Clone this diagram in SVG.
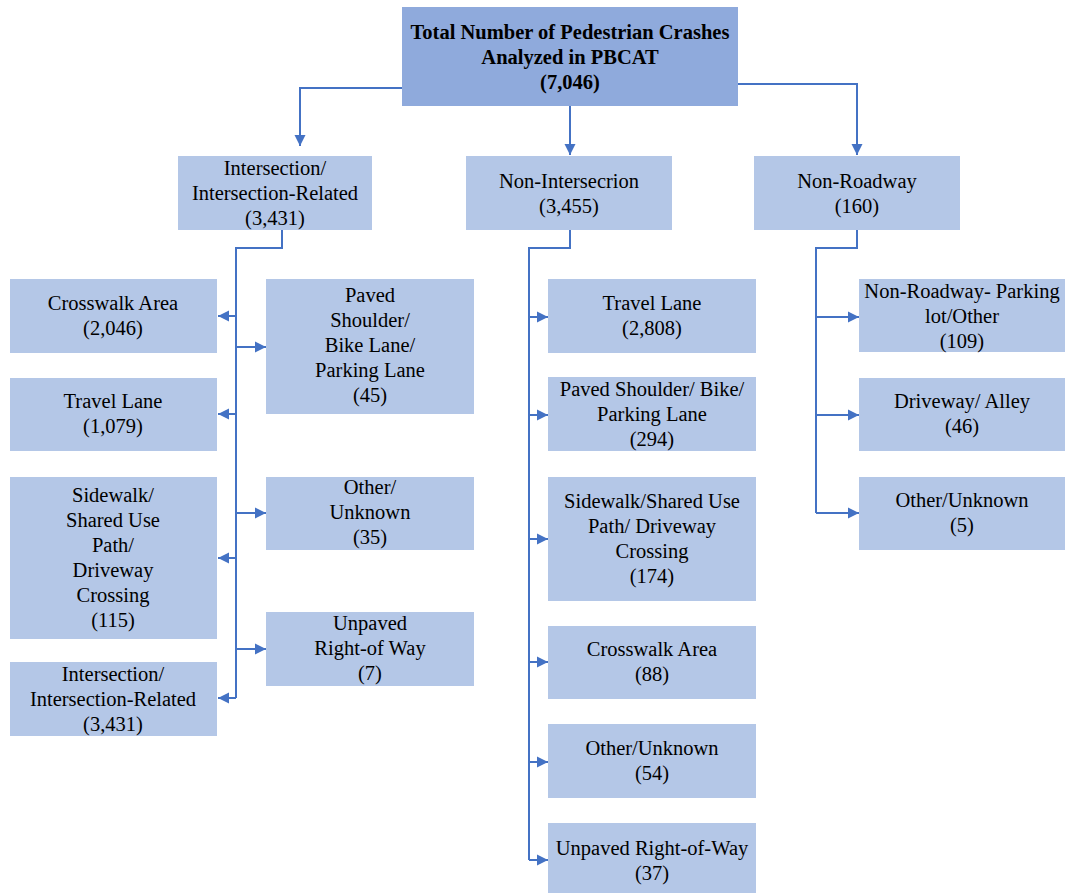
<svg xmlns="http://www.w3.org/2000/svg" width="1065" height="893" viewBox="0 0 1065 893">
<defs>
<style>
.box{fill:#b4c7e7;}
.top{fill:#8faadc;}
text{font-family:"Liberation Serif","Times New Roman",serif;font-size:20.5px;fill:#000;text-anchor:middle;}
.b{font-weight:bold;}
.c{fill:none;stroke:#4472c4;stroke-width:2;}
.a{marker-end:url(#arr);}
</style>
<marker id="arr" markerUnits="userSpaceOnUse" markerWidth="12" markerHeight="12" refX="11" refY="6" orient="auto">
<path d="M0,0.5 L11,6 L0,11.5 Z" fill="#4472c4"/>
</marker>
</defs>
<rect width="1065" height="893" fill="#fff"/>
<g id="connectors">
<path class="c a" d="M402,88 H300 V146"/>
<path class="c a" d="M570,106 V155"/>
<path class="c a" d="M738,84 H857 V155"/>
<path class="c" d="M282,230 V248 H236 V698"/>
<path class="c a" d="M236,316 H218"/>
<path class="c a" d="M236,414 H218"/>
<path class="c a" d="M236,558 H218"/>
<path class="c a" d="M236,698 H218"/>
<path class="c a" d="M236,347 H266"/>
<path class="c a" d="M236,513 H266"/>
<path class="c a" d="M236,649 H266"/>
<path class="c" d="M570,230 V248 H529 V860"/>
<path class="c a" d="M529,317 H548"/>
<path class="c a" d="M529,415 H548"/>
<path class="c a" d="M529,539 H548"/>
<path class="c a" d="M529,662 H548"/>
<path class="c a" d="M529,762 H548"/>
<path class="c a" d="M529,860 H548"/>
<path class="c" d="M857,230 V248 H816 V513"/>
<path class="c a" d="M816,317 H859"/>
<path class="c a" d="M816,415 H859"/>
<path class="c a" d="M816,513 H859"/>
</g>
<g id="total">
<rect class="top" x="402" y="7" width="336" height="99"/>
<text class="b" x="570" y="39">Total Number of Pedestrian Crashes</text>
<text class="b" x="570" y="64">Analyzed in PBCAT</text>
<text class="b" x="570" y="89">(7,046)</text>
</g>
<g id="intersection">
<rect class="box" x="178" y="156" width="194" height="74"/>
<text x="275" y="175">Intersection/</text>
<text x="275" y="200">Intersection-Related</text>
<text x="275" y="225">(3,431)</text>
</g>
<g id="nonintersection">
<rect class="box" x="466" y="156" width="206" height="74"/>
<text x="569" y="188">Non-Intersecrion</text>
<text x="569" y="213">(3,455)</text>
</g>
<g id="nonroadway">
<rect class="box" x="754" y="156" width="206" height="74"/>
<text x="857" y="188">Non-Roadway</text>
<text x="857" y="213">(160)</text>
</g>
<g id="i-crosswalk">
<rect class="box" x="10" y="279" width="207" height="74"/>
<text x="113" y="310">Crosswalk Area</text>
<text x="113" y="335">(2,046)</text>
</g>
<g id="i-travel">
<rect class="box" x="10" y="378" width="207" height="73"/>
<text x="113" y="408">Travel Lane</text>
<text x="113" y="433">(1,079)</text>
</g>
<g id="i-sidewalk">
<rect class="box" x="10" y="477" width="207" height="162"/>
<text x="113" y="502">Sidewalk/</text>
<text x="113" y="527">Shared Use</text>
<text x="113" y="552">Path/</text>
<text x="113" y="577">Driveway</text>
<text x="113" y="602">Crossing</text>
<text x="113" y="627">(115)</text>
</g>
<g id="i-intersection">
<rect class="box" x="10" y="662" width="207" height="74"/>
<text x="113" y="681">Intersection/</text>
<text x="113" y="706">Intersection-Related</text>
<text x="113" y="731">(3,431)</text>
</g>
<g id="i-paved">
<rect class="box" x="266" y="279" width="208" height="135"/>
<text x="370" y="302">Paved</text>
<text x="370" y="327">Shoulder/</text>
<text x="370" y="352">Bike Lane/</text>
<text x="370" y="377">Parking Lane</text>
<text x="370" y="402">(45)</text>
</g>
<g id="i-other">
<rect class="box" x="266" y="477" width="208" height="73"/>
<text x="370" y="494">Other/</text>
<text x="370" y="519">Unknown</text>
<text x="370" y="544">(35)</text>
</g>
<g id="i-unpaved">
<rect class="box" x="266" y="612" width="208" height="74"/>
<text x="370" y="630">Unpaved</text>
<text x="370" y="655">Right-of Way</text>
<text x="370" y="680">(7)</text>
</g>
<g id="n-travel">
<rect class="box" x="548" y="279" width="208" height="74"/>
<text x="652" y="310">Travel Lane</text>
<text x="652" y="335">(2,808)</text>
</g>
<g id="n-paved">
<rect class="box" x="548" y="377" width="208" height="74"/>
<text x="652" y="396">Paved Shoulder/ Bike/</text>
<text x="652" y="421">Parking Lane</text>
<text x="652" y="446">(294)</text>
</g>
<g id="n-sidewalk">
<rect class="box" x="548" y="477" width="208" height="124"/>
<text x="652" y="508">Sidewalk/Shared Use</text>
<text x="652" y="533">Path/ Driveway</text>
<text x="652" y="558">Crossing</text>
<text x="652" y="583">(174)</text>
</g>
<g id="n-crosswalk">
<rect class="box" x="548" y="626" width="208" height="73"/>
<text x="652" y="656">Crosswalk Area</text>
<text x="652" y="681">(88)</text>
</g>
<g id="n-other">
<rect class="box" x="548" y="724" width="208" height="74"/>
<text x="652" y="755">Other/Unknown</text>
<text x="652" y="780">(54)</text>
</g>
<g id="n-unpaved">
<rect class="box" x="548" y="823" width="208" height="74"/>
<text x="652" y="855">Unpaved Right-of-Way</text>
<text x="652" y="880">(37)</text>
</g>
<g id="r-parking">
<rect class="box" x="859" y="279" width="206" height="73"/>
<text x="962" y="298">Non-Roadway- Parking</text>
<text x="962" y="323">lot/Other</text>
<text x="962" y="348">(109)</text>
</g>
<g id="r-driveway">
<rect class="box" x="859" y="378" width="206" height="73"/>
<text x="962" y="408">Driveway/ Alley</text>
<text x="962" y="433">(46)</text>
</g>
<g id="r-other">
<rect class="box" x="859" y="477" width="206" height="73"/>
<text x="962" y="507">Other/Unknown</text>
<text x="962" y="532">(5)</text>
</g>
</svg>
